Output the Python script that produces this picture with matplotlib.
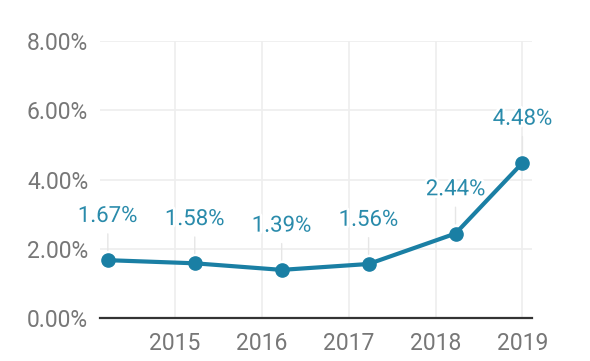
import matplotlib
matplotlib.use("Agg")
import matplotlib.pyplot as plt
import matplotlib.patheffects as pe

# yearly readings (positions in fractional years) and their values in percent
x_pos = [2014.23, 2015.23, 2016.23, 2017.23, 2018.23, 2019.0]
values = [1.67, 1.58, 1.39, 1.56, 2.44, 4.48]
value_labels = ["1.67%", "1.58%", "1.39%", "1.56%", "2.44%", "4.48%"]
year_ticks = [2015, 2016, 2017, 2018, 2019]
y_ticks = [0, 2, 4, 6, 8]

line_color = "#1a7fa4"
text_color = "#2a8bab"
tick_color = "#777777"

plt.rcParams['font.family'] = ['Roboto', 'DejaVu Sans']

fig = plt.figure(figsize=(5.9, 3.61), dpi=100)
ax = fig.add_axes([0.1695, 0.1191, 0.7322, 0.7673])

ax.plot(x_pos, values, color=line_color, linewidth=3, marker="o",
        markersize=9.5, zorder=3, solid_capstyle="round")

for x, v, lab in zip(x_pos, values, value_labels):
    ax.annotate(lab, xy=(x, v), xytext=(0, 31.5), textcoords="offset points",
                ha="center", va="center", fontsize=16, color=text_color, zorder=5,
                path_effects=[pe.withStroke(linewidth=4, foreground="white")],
                arrowprops=dict(arrowstyle="-", color="#e6e6e6", lw=1,
                                relpos=(0.5, 0), shrinkA=3, shrinkB=7))

ax.set_xlim(2014.14, 2019.11)
ax.set_ylim(0, 8)
ax.set_xticks(year_ticks)
ax.set_xticklabels([str(y) for y in year_ticks])
ax.set_yticks(y_ticks)
ax.set_yticklabels([f"{t:.2f}%" for t in y_ticks])

ax.grid(True, color="#eeeeee", linewidth=1.2, zorder=0)
ax.set_axisbelow(True)
for side in ["top", "right", "left"]:
    ax.spines[side].set_visible(False)
ax.spines["bottom"].set_color("#333333")
ax.spines["bottom"].set_linewidth(1.6)
ax.spines["bottom"].set_zorder(4)

ax.tick_params(axis="both", length=0, labelsize=16.5, labelcolor=tick_color)
ax.tick_params(axis="y", pad=8.5)
ax.tick_params(axis="x", pad=10)

fig.savefig("out.png", dpi=100, facecolor="white")
